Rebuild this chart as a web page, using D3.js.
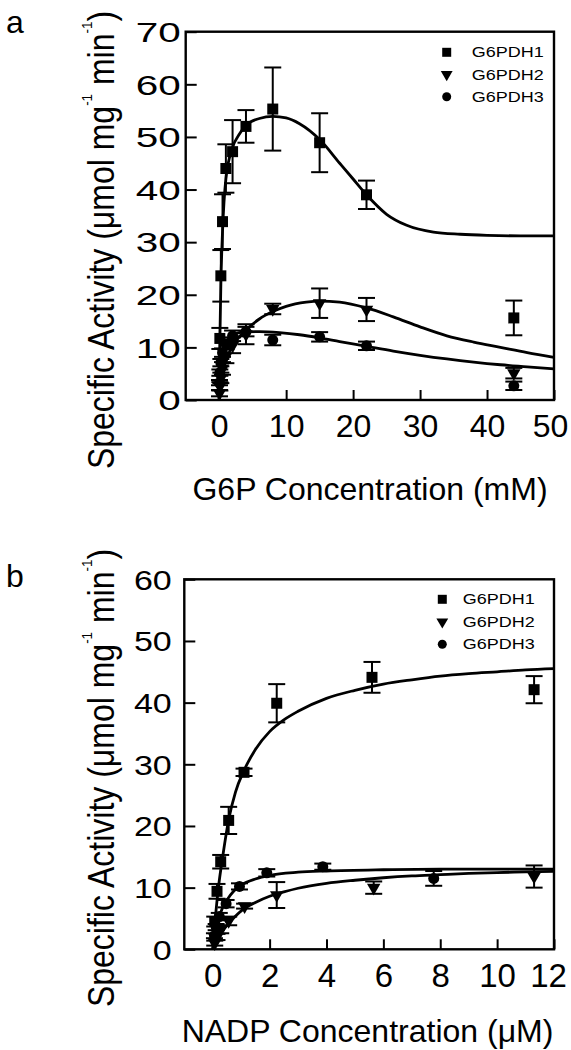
<!DOCTYPE html>
<html><head><meta charset="utf-8">
<script src="https://cdn.jsdelivr.net/npm/d3@7"></script>
<style>
body{margin:0;background:#fff}
svg{display:block}
text{font-family:"Liberation Sans",Arial,Helvetica,sans-serif;fill:#000}
</style>
</head><body>
<svg id="c" width="571" height="1050"></svg>
<script>
// ---------- Panel a : G6P concentration (mM) ----------
const aXTicks = [0, 10, 20, 30, 40, 50];
const aYTicks = [0, 10, 20, 30, 40, 50, 60, 70];

const aG1x = [0.1, 0.25, 0.5, 1, 2, 4, 8, 15, 22, 44];
const aG1y = [11.7, 23.6, 33.9, 44.0, 47.2, 52.0, 55.3, 48.9, 39.0, 15.6];
const aG1e = [2.0, 4.9, 5.2, 4.6, 6.0, 3.1, 7.9, 5.6, 2.7, 3.3];

const aG2x = [0.05, 0.1, 0.25, 0.5, 1, 2, 4, 8, 15, 22, 44];
const aG2y = [1.3, 2.6, 4.2, 6.0, 8.3, 10.4, 12.5, 17.3, 18.4, 17.2, 5.1];
const aG2e = [0.6, 0.8, 1.0, 1.2, 1.3, 1.5, 1.9, 1.0, 2.8, 2.2, 1.0];

const aG3x = [0.05, 0.1, 0.25, 0.5, 1, 2, 4, 8, 15, 22, 44];
const aG3y = [3.3, 5.2, 7.1, 9.0, 10.6, 12.2, 13.0, 11.4, 12.0, 10.3, 2.7];
const aG3e = [0.5, 0.6, 0.7, 0.8, 0.9, 1.0, 0.9, 1.0, 0.9, 0.8, 0.8];

// fitted curves
const aC1x = [0, 0.1, 0.25, 0.5, 1, 2, 3, 4, 6, 8, 10, 12, 15, 18, 20, 22, 25, 28, 32, 36, 40, 45, 50];
const aC1y = [0, 11, 22, 32, 42, 48, 50.5, 52.2, 53.5, 53.9, 53.6, 52.5, 49.5, 45.0, 42.0, 39.0, 35.3, 33.2, 31.9, 31.5, 31.3, 31.2, 31.2];
const aC2x = [0, 0.25, 0.5, 1, 2, 3, 4, 6, 8, 10, 13, 15, 18, 22, 26, 30, 34, 38, 42, 46, 50];
const aC2y = [0, 3.0, 5.0, 7.5, 10.3, 12.0, 13.3, 15.4, 16.8, 17.8, 18.6, 18.8, 18.6, 17.5, 15.8, 13.9, 12.2, 11.0, 10.0, 9.0, 8.1];
const aC3x = [0, 0.1, 0.25, 0.5, 1, 1.5, 2, 3, 4, 6, 9, 12, 15, 18, 22, 26, 30, 34, 38, 42, 46, 50];
const aC3y = [0, 3.0, 6.0, 8.6, 10.8, 11.8, 12.3, 12.8, 12.95, 13.0, 12.8, 12.4, 11.8, 11.1, 10.2, 9.3, 8.5, 7.8, 7.2, 6.7, 6.3, 5.9];

// ---------- Panel b : NADP concentration (µM) ----------
const bXTicks = [0, 2, 4, 6, 8, 10, 12];
const bYTicks = [0, 10, 20, 30, 40, 50, 60];

const bG1x = [0.07, 0.15, 0.28, 0.56, 1.1, 2.25, 5.6, 11.3];
const bG1y = [4.5, 9.4, 14.2, 20.9, 28.7, 39.9, 44.1, 42.1];
const bG1e = [0.8, 1.2, 1.1, 2.2, 0.6, 3.1, 2.5, 2.2];

const bG2x = [0.07, 0.15, 0.28, 0.56, 1.12, 2.25, 5.66, 11.3];
const bG2y = [1.0, 2.0, 3.2, 4.6, 7.0, 8.8, 10.0, 11.8];
const bG2e = [0.4, 0.5, 0.6, 0.7, 0.4, 2.1, 1.0, 1.8];

const bG3x = [0.06, 0.12, 0.23, 0.47, 0.94, 1.9, 3.87, 7.77];
const bG3y = [2.2, 3.6, 5.3, 7.4, 10.2, 12.4, 13.4, 11.5];
const bG3e = [0.4, 0.5, 0.6, 0.6, 0.5, 0.6, 0.5, 1.2];

const bC1x = [0, 0.1, 0.2, 0.35, 0.56, 0.8, 1.1, 1.5, 2.0, 2.5, 3, 4, 5, 6, 7, 8, 9, 10, 11, 12];
const bC1y = [0, 5.5, 10, 15, 21, 25.5, 29, 32.4, 35.3, 37.2, 38.6, 40.7, 42, 43, 43.7, 44.3, 44.7, 45.0, 45.3, 45.5];
const bC2x = [0, 0.2, 0.4, 0.7, 1.1, 1.5, 2, 2.5, 3, 4, 5, 6, 7, 8, 9, 10, 11, 12];
const bC2y = [0, 1.8, 3.3, 4.9, 6.6, 7.6, 8.6, 9.3, 9.9, 10.7, 11.2, 11.6, 11.9, 12.1, 12.3, 12.45, 12.55, 12.65];
const bC3x = [0, 0.1, 0.2, 0.35, 0.5, 0.75, 1, 1.5, 2, 3, 4, 6, 8, 10, 12];
const bC3y = [0, 2.8, 4.8, 6.8, 8.0, 9.5, 10.4, 11.4, 12.0, 12.5, 12.7, 12.9, 13.0, 13.0, 13.0];

const seriesNames = ["G6PDH1", "G6PDH2", "G6PDH3"];
const seriesShapes = ["square", "triangle", "circle"];

const svg = d3.select("#c");

function marker(sel, shape, s) {
  if (shape === "square") {
    sel.append("path").attr("d", d3.symbol(d3.symbolSquare, s * s)());
  } else if (shape === "triangle") {
    sel.append("path").attr("d", d3.symbol(d3.symbolTriangle, s * s * 0.5)()).attr("transform", "rotate(180)");
  } else {
    sel.append("circle").attr("r", s / 2);
  }
}

function panel(cfg) {
  const g = svg.append("g");
  const x = d3.scaleLinear().domain(cfg.xDom).range([cfg.left, cfg.right]);
  const y = d3.scaleLinear().domain(cfg.yDom).range([cfg.bottom, cfg.top]);

  // axes (inward ticks)
  const xa = g.append("g").attr("transform", `translate(0,${cfg.bottom})`)
    .call(d3.axisBottom(x).tickValues(cfg.xTicks).tickSizeInner(-10).tickSizeOuter(0).tickFormat(d3.format("d")));
  xa.select(".domain").remove();
  xa.selectAll(".tick line").attr("stroke", "#000").attr("stroke-width", 2);
  const nx = cfg.xTicks.length;
  xa.selectAll(".tick text").attr("y", cfg.xLabY).attr("dy", 0).attr("font-size", cfg.xTickFs)
    .attr("dx", (d, i) => i === nx - 1 ? cfg.lastDx : 0)
    .attr("font-family", "Liberation Sans, Arial, sans-serif").attr("fill", "#000");

  const ya = g.append("g").attr("transform", `translate(${cfg.left},0)`)
    .call(d3.axisLeft(y).tickValues(cfg.yTicks).tickSizeInner(-11).tickSizeOuter(0).tickFormat(d3.format("d")));
  ya.select(".domain").remove();
  ya.selectAll(".tick line").attr("stroke", "#000").attr("stroke-width", 2);
  ya.selectAll(".tick text").attr("x", -cfg.yLabGap / cfg.ySx).attr("dy", "0.36em")
    .attr("font-size", cfg.yTickFs).attr("transform", `scale(${cfg.ySx},1)`)
    .attr("font-family", "Liberation Sans, Arial, sans-serif").attr("fill", "#000");

  // frame
  g.append("rect").attr("x", cfg.left).attr("y", cfg.top)
    .attr("width", cfg.right - cfg.left).attr("height", cfg.bottom - cfg.top)
    .attr("fill", "none").attr("stroke", "#000").attr("stroke-width", 2.4);

  // curves
  const line = d3.line().x(d => x(d[0])).y(d => y(d[1])).curve(d3.curveMonotoneX);
  cfg.curves.forEach(c => {
    g.append("path").datum(d3.zip(c[0], c[1])).attr("d", line)
      .attr("fill", "none").attr("stroke", "#000").attr("stroke-width", 2.8);
  });

  // error bars + markers
  cfg.series.forEach((s, i) => {
    const pts = d3.zip(s[0], s[1], s[2]);
    const eb = g.append("g").attr("stroke", "#000").attr("stroke-width", 2);
    pts.forEach(p => {
      const px = x(p[0]), y1 = y(p[1] + p[2]), y0 = y(p[1] - p[2]);
      eb.append("line").attr("x1", px).attr("x2", px).attr("y1", y1).attr("y2", y0);
      eb.append("line").attr("x1", px - 8.5).attr("x2", px + 8.5).attr("y1", y1).attr("y2", y1);
      eb.append("line").attr("x1", px - 8.5).attr("x2", px + 8.5).attr("y1", y0).attr("y2", y0);
    });
    pts.forEach(p => {
      const m = g.append("g").attr("transform", `translate(${x(p[0])},${y(p[1])})`).attr("fill", "#000");
      marker(m, seriesShapes[i], seriesShapes[i] === "triangle" ? 12.5 : 11);
    });
  });

  // legend
  seriesNames.forEach((n, i) => {
    const ly = cfg.legY + i * cfg.legDy;
    const m = g.append("g").attr("transform", `translate(${cfg.legMx},${ly})`).attr("fill", "#000");
    marker(m, seriesShapes[i], seriesShapes[i] === "triangle" ? 11 : 9);
    g.append("text").attr("x", cfg.legTx).attr("y", ly).attr("dy", "0.36em")
      .attr("font-size", 14).attr("textLength", 72).attr("lengthAdjust", "spacingAndGlyphs").text(n);
  });

  // axis titles
  g.append("text").attr("x", cfg.xTitleX).attr("y", cfg.xTitleY).attr("text-anchor", "middle")
    .attr("font-size", cfg.xTitleFs).text(cfg.xTitle);

  const supFs = cfg.yTitleFs * 0.42;
  const yt = g.append("text").attr("text-anchor", "middle").attr("font-size", cfg.yTitleFs)
    .attr("transform", `translate(${cfg.yTitleX},${cfg.yTitleY}) scale(1.15,1) rotate(-90)`);
  yt.append("tspan").text("Specific Activity (\u03bcmol mg");
  yt.append("tspan").attr("dy", -19).attr("font-size", supFs).text("-1");
  yt.append("tspan").attr("dy", 19).text(" min");
  yt.append("tspan").attr("dy", -19).attr("font-size", supFs).text("-1");
  yt.append("tspan").attr("dy", 19).text(")");

  // panel letter
  g.append("text").attr("x", 6).attr("y", cfg.letterY).attr("font-size", 32).text(cfg.letter);
}

panel({
  xDom: [-5, 50], yDom: [0, 70], left: 185.7, right: 554, top: 31.7, bottom: 400,
  xTicks: aXTicks, yTicks: aYTicks, xLabY: 37, xTickFs: 32, lastDx: -4, yLabGap: 5, ySx: 1.5, yTickFs: 27,
  curves: [[aC1x, aC1y], [aC2x, aC2y], [aC3x, aC3y]],
  series: [[aG1x, aG1y, aG1e], [aG2x, aG2y, aG2e], [aG3x, aG3y, aG3e]],
  legMx: 446.7, legTx: 471.7, legY: 52.3, legDy: 22.2,
  xTitle: "G6P Concentration (mM)", xTitleX: 370, xTitleY: 500, xTitleFs: 32,
  yTitleX: 114, yTitleY: 240, yTitleFs: 32,
  letter: "a", letterY: 33
});

panel({
  xDom: [-1, 12], yDom: [0, 60], left: 184.3, right: 554, top: 579.3, bottom: 949.3,
  xTicks: bXTicks, yTicks: bYTicks, xLabY: 37.7, xTickFs: 33, lastDx: -6, yLabGap: 12.6, ySx: 1.26, yTickFs: 27,
  curves: [[bC1x, bC1y], [bC2x, bC2y], [bC3x, bC3y]],
  series: [[bG1x, bG1y, bG1e], [bG2x, bG2y, bG2e], [bG3x, bG3y, bG3e]],
  legMx: 442.3, legTx: 462.7, legY: 599.3, legDy: 22.5,
  xTitle: "NADP Concentration (\u03bcM)", xTitleX: 367.5, xTitleY: 1042, xTitleFs: 32,
  yTitleX: 114, yTitleY: 778, yTitleFs: 32,
  letter: "b", letterY: 587
});
</script>
</body></html>
